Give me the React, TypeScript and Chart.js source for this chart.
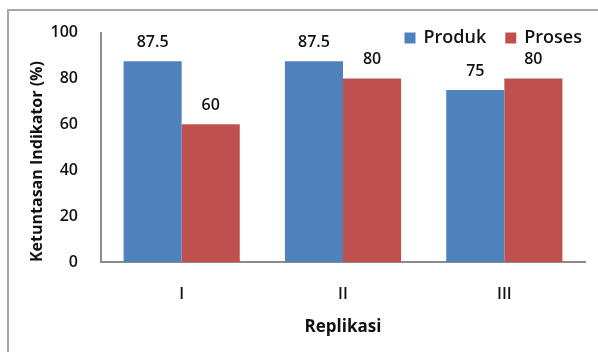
import React, { useEffect, useRef } from "react";
import { Chart, registerables } from "chart.js";

Chart.register(...registerables);

const categories = ["I", "II", "III"];
const produk = [87.5, 87.5, 75];
const proses = [60, 80, 80];
const yTicks = [0, 20, 40, 60, 80, 100];

const BLUE = "#4F81BD";
const RED = "#C0504D";
const AXIS = "#8C8C8C";
const FONT = "'Open Sans', 'DejaVu Sans', sans-serif";

// Values written above each bar
const valueLabels = {
  id: "valueLabels",
  afterDatasetsDraw(chart: any) {
    const { ctx } = chart;
    ctx.save();
    ctx.font = `600 16px ${FONT}`;
    ctx.fillStyle = "#111";
    ctx.textAlign = "center";
    ctx.textBaseline = "bottom";
    chart.data.datasets.forEach((ds: any, i: number) => {
      const meta = chart.getDatasetMeta(i);
      meta.data.forEach((bar: any, j: number) => {
        ctx.fillText(String(ds.data[j]), bar.x, bar.y - 11);
      });
    });
    ctx.restore();
  },
};

// Legend in the upper-right corner, overlapping the plot
const cornerLegend = {
  id: "cornerLegend",
  afterDraw(chart: any) {
    const { ctx } = chart;
    const right = chart.chartArea.right;
    ctx.save();
    ctx.font = `600 18px ${FONT}`;
    ctx.textBaseline = "middle";
    ctx.textAlign = "left";
    const y = 38;
    const box = 11;
    const gap = 8;
    const itemGap = 19;
    const items = chart.data.datasets.map((ds: any) => ({
      label: ds.label,
      color: ds.backgroundColor,
      w: box + gap + ctx.measureText(ds.label).width,
    }));
    const total = items.reduce((s: number, it: any) => s + it.w, 0) + itemGap * (items.length - 1);
    let x = right - 3 - total;
    items.forEach((it: any) => {
      ctx.fillStyle = it.color;
      ctx.fillRect(x, y - box / 2, box, box);
      ctx.fillStyle = "#111";
      ctx.fillText(it.label, x + box + gap, y);
      x += it.w + itemGap;
    });
    ctx.restore();
  },
};

export default function App() {
  const ref = useRef<HTMLCanvasElement>(null);

  useEffect(() => {
    const chart = new Chart(ref.current!, {
      type: "bar",
      data: {
        labels: categories,
        datasets: [
          { label: "Produk", data: produk, backgroundColor: BLUE },
          { label: "Proses", data: proses, backgroundColor: RED },
        ],
      },
      options: {
        animation: false,
        responsive: false,
        devicePixelRatio: 1,
        layout: { padding: { top: 31, right: 13, left: 0, bottom: 0 } },
        plugins: { legend: { display: false }, tooltip: { enabled: false } },
        datasets: { bar: { categoryPercentage: 0.72, barPercentage: 1 } },
        scales: {
          x: {
            grid: { display: false, drawTicks: false },
            border: { color: AXIS, width: 2 },
            ticks: { color: "#111", font: { family: FONT, size: 16, weight: "600" }, padding: 23 },
            title: {
              display: true,
              text: "Replikasi",
              color: "#111",
              font: { family: FONT, size: 17, weight: "bold" },
              padding: { top: 0, bottom: 15 },
            },
            afterFit(scale: any) {
              scale.height = 90;
            },
          },
          y: {
            min: 0,
            max: 100,
            afterBuildTicks(scale: any) {
              scale.ticks = yTicks.map((v) => ({ value: v }));
            },
            grid: { display: false, drawTicks: false },
            border: { color: AXIS, width: 2 },
            ticks: { color: "#111", font: { family: FONT, size: 16, weight: "600" }, padding: 23 },
            title: {
              display: true,
              text: "Ketuntasan Indikator (%)",
              align: "start",
              color: "#111",
              font: { family: FONT, size: 16, weight: "bold" },
              padding: { top: 28, bottom: 0 },
            },
            afterFit(scale: any) {
              scale.width = 101;
            },
          },
        },
      },
      plugins: [valueLabels, cornerLegend],
    } as any);
    return () => chart.destroy();
  }, []);

  return (
    <div style={{ position: "fixed", left: 0, top: 0, width: 598, height: 352, background: "#fff" }}>
      <div
        style={{
          position: "absolute",
          left: 7,
          top: 9,
          width: 620,
          height: 400,
          borderLeft: "2px solid #A6A6A6",
          borderTop: "2px solid #A6A6A6",
        }}
      />
      <canvas ref={ref} width={598} height={352} style={{ position: "absolute", left: 0, top: 0 }} />
    </div>
  );
}
